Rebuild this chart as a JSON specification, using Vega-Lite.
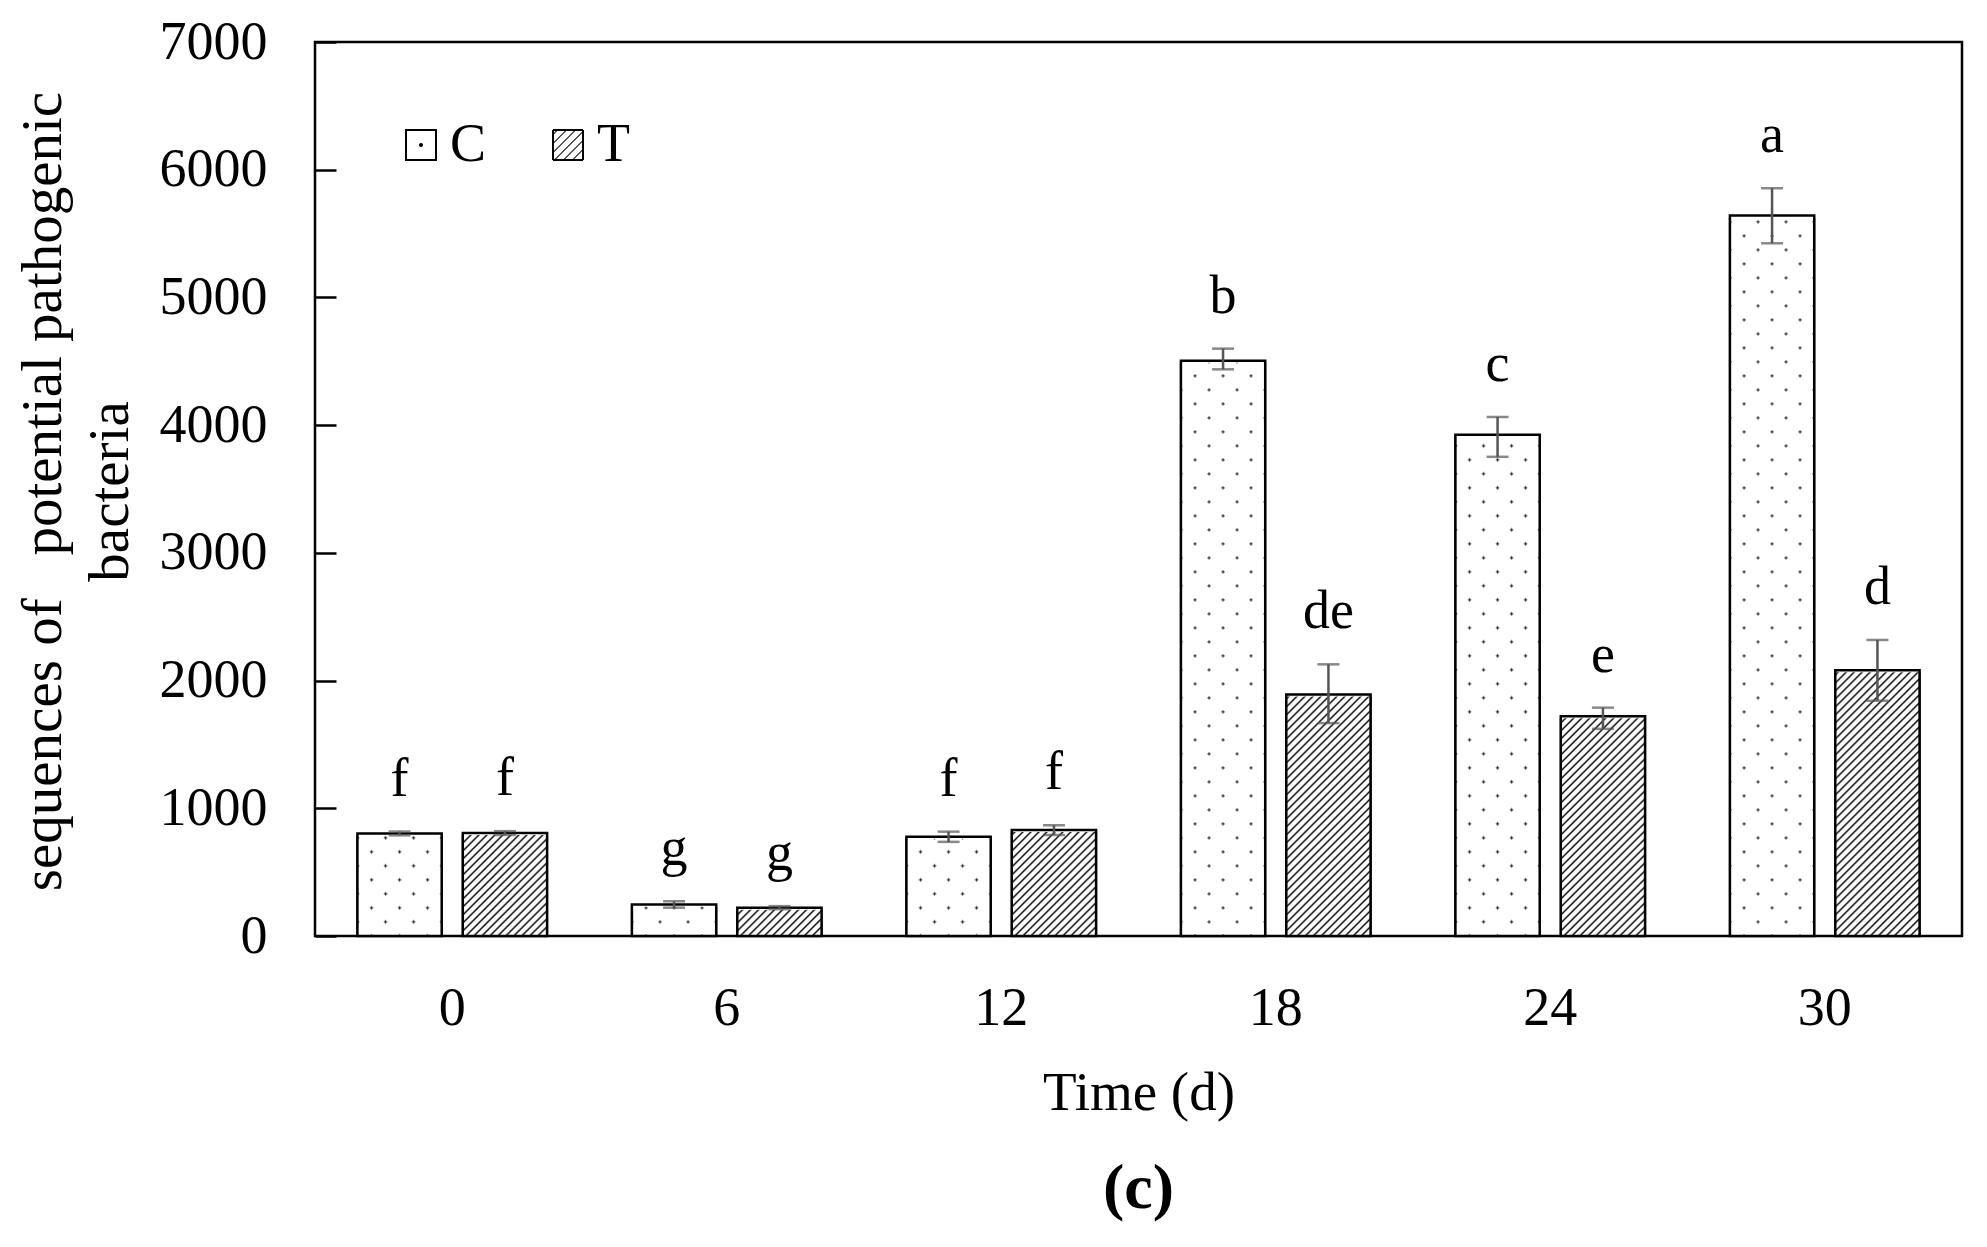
{
  "$schema": "https://vega.github.io/schema/vega-lite/v6.json",
  "width": 1647,
  "height": 894,
  "autosize": {"type": "none"},
  "padding": {"left": 315, "top": 42, "right": 25, "bottom": 311},
  "background": "#ffffff",
  "config": {
    "font": "Liberation Serif",
    "view": {"stroke": "#000000", "strokeWidth": 2.5},
    "axis": {
      "grid": false,
      "domain": false,
      "labelColor": "#000000",
      "titleColor": "#000000",
      "labelFont": "Liberation Serif",
      "titleFont": "Liberation Serif",
      "labelFontSize": 54,
      "titleFontWeight": "normal"
    },
    "axisY": {"grid": true, "gridColor": "#000000", "gridWidth": 2.5, "gridOpacity": 1, "gridDash": [21, 5000], "ticks": false},
    "legend": {
      "title": null,
      "orient": "none",
      "direction": "horizontal",
      "padding": 0,
      "symbolType": "square",
      "symbolSize": 900,
      "symbolStrokeWidth": 2,
      "labelFont": "Liberation Serif",
      "labelFontSize": 54,
      "labelColor": "#000000",
      "labelOffset": 2
    }
  },
  "title": {
    "text": "(c)",
    "orient": "bottom",
    "frame": "group",
    "anchor": "middle",
    "offset": 88,
    "baseline": "alphabetic",
    "font": "Liberation Serif",
    "fontSize": 64,
    "fontWeight": "bold",
    "color": "#000000"
  },
  "data": {
    "values": [
      {"time": 0, "group": "C", "mean": 803, "lo": 788, "hi": 818, "sig": "f"},
      {"time": 0, "group": "T", "mean": 806, "lo": 791, "hi": 821, "sig": "f"},
      {"time": 6, "group": "C", "mean": 247, "lo": 222, "hi": 272, "sig": "g"},
      {"time": 6, "group": "T", "mean": 222, "lo": 210, "hi": 234, "sig": "g"},
      {"time": 12, "group": "C", "mean": 777, "lo": 737, "hi": 817, "sig": "f"},
      {"time": 12, "group": "T", "mean": 829, "lo": 791, "hi": 867, "sig": "f"},
      {"time": 18, "group": "C", "mean": 4505, "lo": 4437, "hi": 4599, "sig": "b"},
      {"time": 18, "group": "T", "mean": 1890, "lo": 1667, "hi": 2127, "sig": "de"},
      {"time": 24, "group": "C", "mean": 3925, "lo": 3752, "hi": 4064, "sig": "c"},
      {"time": 24, "group": "T", "mean": 1720, "lo": 1622, "hi": 1788, "sig": "e"},
      {"time": 30, "group": "C", "mean": 5641, "lo": 5424, "hi": 5855, "sig": "a"},
      {"time": 30, "group": "T", "mean": 2080, "lo": 1842, "hi": 2318, "sig": "d"}
    ]
  },
  "encoding": {
    "x": {
      "field": "time",
      "type": "ordinal",
      "scale": {"paddingInner": 0.309, "paddingOuter": 0.1545},
      "axis": {
        "title": "Time (d)",
        "labelAngle": 0,
        "ticks": false,
        "tickSize": 0,
        "labelPadding": 88,
        "labelBaseline": "alphabetic",
        "titleFontSize": 55,
        "titleY": 173,
        "titleBaseline": "alphabetic"
      }
    },
    "xOffset": {"field": "group", "scale": {"domain": ["C", "T"], "paddingInner": 0.2, "paddingOuter": 0}}
  },
  "layer": [
    {
      "transform": [{"filter": "datum.group === 'C'"}],
      "mark": {
        "type": "bar",
        "stroke": "#000000",
        "strokeWidth": 2,
        "fill": {
          "gradient": "radial", "x1": 0.5, "y1": 0.5, "r1": 0, "x2": 0.5, "y2": 0.5, "r2": 0.5,
          "stops": [
            {"offset": 0, "color": "#000"}, {"offset": 0.1, "color": "#000"},
            {"offset": 0.16, "color": "#fff"}, {"offset": 1, "color": "#fff"}
          ]
        }
      },
      "encoding": {
        "y": {"field": "mean", "type": "quantitative"},
        "stroke": {
          "field": "group",
          "type": "nominal",
          "scale": {"domain": ["C"], "range": ["#000000"]},
          "legend": {"legendX": 79, "legendY": 76}
        }
      }
    },
    {
      "transform": [{"filter": "datum.group === 'T'"}],
      "mark": {
        "type": "bar",
        "stroke": "#000000",
        "strokeWidth": 2,
        "fill": {
          "gradient": "linear", "x1": 0, "y1": 0, "x2": 1, "y2": 1,
          "stops": [
            {"offset": 0.05, "color": "#fff"}, {"offset": 0.075, "color": "#000"}, {"offset": 0.1, "color": "#fff"},
            {"offset": 0.2, "color": "#fff"}, {"offset": 0.225, "color": "#000"}, {"offset": 0.25, "color": "#fff"},
            {"offset": 0.35, "color": "#fff"}, {"offset": 0.375, "color": "#000"}, {"offset": 0.4, "color": "#fff"},
            {"offset": 0.5, "color": "#fff"}, {"offset": 0.525, "color": "#000"}, {"offset": 0.55, "color": "#fff"},
            {"offset": 0.65, "color": "#fff"}, {"offset": 0.675, "color": "#000"}, {"offset": 0.7, "color": "#fff"},
            {"offset": 0.8, "color": "#fff"}, {"offset": 0.825, "color": "#000"}, {"offset": 0.85, "color": "#fff"},
            {"offset": 0.95, "color": "#fff"}, {"offset": 0.975, "color": "#000"}, {"offset": 1, "color": "#fff"}
          ]
        }
      },
      "encoding": {
        "y": {"field": "mean", "type": "quantitative"},
        "strokeDash": {
          "field": "group",
          "type": "nominal",
          "scale": {"domain": ["T"], "range": [[1, 0]]},
          "legend": {"legendX": 226, "legendY": 76}
        }
      }
    },
    {
      "transform": [{"filter": "datum.group === 'T'"}],
      "mark": {
        "type": "bar",
        "strokeWidth": 0,
        "fill": {
          "gradient": "linear", "x1": 0, "y1": 0, "x2": 0.3922, "y2": 1.3057,
          "stops": [
            {"offset": 0.005, "color": "#fff"}, {"offset": 0.01, "color": "#000"}, {"offset": 0.015, "color": "#fff"},
            {"offset": 0.025, "color": "#fff"}, {"offset": 0.03, "color": "#000"}, {"offset": 0.035, "color": "#fff"},
            {"offset": 0.045, "color": "#fff"}, {"offset": 0.05, "color": "#000"}, {"offset": 0.055, "color": "#fff"},
            {"offset": 0.065, "color": "#fff"}, {"offset": 0.07, "color": "#000"}, {"offset": 0.075, "color": "#fff"},
            {"offset": 0.085, "color": "#fff"}, {"offset": 0.09, "color": "#000"}, {"offset": 0.095, "color": "#fff"},
            {"offset": 0.105, "color": "#fff"}, {"offset": 0.11, "color": "#000"}, {"offset": 0.115, "color": "#fff"},
            {"offset": 0.125, "color": "#fff"}, {"offset": 0.13, "color": "#000"}, {"offset": 0.135, "color": "#fff"},
            {"offset": 0.145, "color": "#fff"}, {"offset": 0.15, "color": "#000"}, {"offset": 0.155, "color": "#fff"},
            {"offset": 0.165, "color": "#fff"}, {"offset": 0.17, "color": "#000"}, {"offset": 0.175, "color": "#fff"},
            {"offset": 0.185, "color": "#fff"}, {"offset": 0.19, "color": "#000"}, {"offset": 0.195, "color": "#fff"},
            {"offset": 0.205, "color": "#fff"}, {"offset": 0.21, "color": "#000"}, {"offset": 0.215, "color": "#fff"},
            {"offset": 0.225, "color": "#fff"}, {"offset": 0.23, "color": "#000"}, {"offset": 0.235, "color": "#fff"},
            {"offset": 0.245, "color": "#fff"}, {"offset": 0.25, "color": "#000"}, {"offset": 0.255, "color": "#fff"},
            {"offset": 0.265, "color": "#fff"}, {"offset": 0.27, "color": "#000"}, {"offset": 0.275, "color": "#fff"},
            {"offset": 0.285, "color": "#fff"}, {"offset": 0.29, "color": "#000"}, {"offset": 0.295, "color": "#fff"},
            {"offset": 0.305, "color": "#fff"}, {"offset": 0.31, "color": "#000"}, {"offset": 0.315, "color": "#fff"},
            {"offset": 0.325, "color": "#fff"}, {"offset": 0.33, "color": "#000"}, {"offset": 0.335, "color": "#fff"},
            {"offset": 0.345, "color": "#fff"}, {"offset": 0.35, "color": "#000"}, {"offset": 0.355, "color": "#fff"},
            {"offset": 0.365, "color": "#fff"}, {"offset": 0.37, "color": "#000"}, {"offset": 0.375, "color": "#fff"},
            {"offset": 0.385, "color": "#fff"}, {"offset": 0.39, "color": "#000"}, {"offset": 0.395, "color": "#fff"},
            {"offset": 0.405, "color": "#fff"}, {"offset": 0.41, "color": "#000"}, {"offset": 0.415, "color": "#fff"},
            {"offset": 0.425, "color": "#fff"}, {"offset": 0.43, "color": "#000"}, {"offset": 0.435, "color": "#fff"},
            {"offset": 0.445, "color": "#fff"}, {"offset": 0.45, "color": "#000"}, {"offset": 0.455, "color": "#fff"},
            {"offset": 0.465, "color": "#fff"}, {"offset": 0.47, "color": "#000"}, {"offset": 0.475, "color": "#fff"},
            {"offset": 0.485, "color": "#fff"}, {"offset": 0.49, "color": "#000"}, {"offset": 0.495, "color": "#fff"},
            {"offset": 0.505, "color": "#fff"}, {"offset": 0.51, "color": "#000"}, {"offset": 0.515, "color": "#fff"},
            {"offset": 0.525, "color": "#fff"}, {"offset": 0.53, "color": "#000"}, {"offset": 0.535, "color": "#fff"},
            {"offset": 0.545, "color": "#fff"}, {"offset": 0.55, "color": "#000"}, {"offset": 0.555, "color": "#fff"},
            {"offset": 0.565, "color": "#fff"}, {"offset": 0.57, "color": "#000"}, {"offset": 0.575, "color": "#fff"},
            {"offset": 0.585, "color": "#fff"}, {"offset": 0.59, "color": "#000"}, {"offset": 0.595, "color": "#fff"},
            {"offset": 0.605, "color": "#fff"}, {"offset": 0.61, "color": "#000"}, {"offset": 0.615, "color": "#fff"},
            {"offset": 0.625, "color": "#fff"}, {"offset": 0.63, "color": "#000"}, {"offset": 0.635, "color": "#fff"},
            {"offset": 0.645, "color": "#fff"}, {"offset": 0.65, "color": "#000"}, {"offset": 0.655, "color": "#fff"},
            {"offset": 0.665, "color": "#fff"}, {"offset": 0.67, "color": "#000"}, {"offset": 0.675, "color": "#fff"},
            {"offset": 0.685, "color": "#fff"}, {"offset": 0.69, "color": "#000"}, {"offset": 0.695, "color": "#fff"},
            {"offset": 0.705, "color": "#fff"}, {"offset": 0.71, "color": "#000"}, {"offset": 0.715, "color": "#fff"},
            {"offset": 0.725, "color": "#fff"}, {"offset": 0.73, "color": "#000"}, {"offset": 0.735, "color": "#fff"},
            {"offset": 0.745, "color": "#fff"}, {"offset": 0.75, "color": "#000"}, {"offset": 0.755, "color": "#fff"},
            {"offset": 0.765, "color": "#fff"}, {"offset": 0.77, "color": "#000"}, {"offset": 0.775, "color": "#fff"},
            {"offset": 0.785, "color": "#fff"}, {"offset": 0.79, "color": "#000"}, {"offset": 0.795, "color": "#fff"},
            {"offset": 0.805, "color": "#fff"}, {"offset": 0.81, "color": "#000"}, {"offset": 0.815, "color": "#fff"},
            {"offset": 0.825, "color": "#fff"}, {"offset": 0.83, "color": "#000"}, {"offset": 0.835, "color": "#fff"},
            {"offset": 0.845, "color": "#fff"}, {"offset": 0.85, "color": "#000"}, {"offset": 0.855, "color": "#fff"},
            {"offset": 0.865, "color": "#fff"}, {"offset": 0.87, "color": "#000"}, {"offset": 0.875, "color": "#fff"},
            {"offset": 0.885, "color": "#fff"}, {"offset": 0.89, "color": "#000"}, {"offset": 0.895, "color": "#fff"},
            {"offset": 0.905, "color": "#fff"}, {"offset": 0.91, "color": "#000"}, {"offset": 0.915, "color": "#fff"}
          ]
        }
      },
      "encoding": {
        "y": {"datum": 2200, "type": "quantitative"},
        "y2": {"datum": 0}
      }
    },
    {
      "transform": [{"filter": "datum.group === 'C'"}],
      "mark": {
        "type": "bar",
        "strokeWidth": 0,
        "fill": {
          "gradient": "linear", "x1": 0, "y1": 0, "x2": 0.2198, "y2": 1.8977,
          "stops": [
            {"offset": 0.008, "color": "#fff"}, {"offset": 0.01, "color": "#000"}, {"offset": 0.012, "color": "#fff"},
            {"offset": 0.028, "color": "#fff"}, {"offset": 0.03, "color": "#000"}, {"offset": 0.032, "color": "#fff"},
            {"offset": 0.048, "color": "#fff"}, {"offset": 0.05, "color": "#000"}, {"offset": 0.052, "color": "#fff"},
            {"offset": 0.068, "color": "#fff"}, {"offset": 0.07, "color": "#000"}, {"offset": 0.072, "color": "#fff"},
            {"offset": 0.088, "color": "#fff"}, {"offset": 0.09, "color": "#000"}, {"offset": 0.092, "color": "#fff"},
            {"offset": 0.108, "color": "#fff"}, {"offset": 0.11, "color": "#000"}, {"offset": 0.112, "color": "#fff"},
            {"offset": 0.128, "color": "#fff"}, {"offset": 0.13, "color": "#000"}, {"offset": 0.132, "color": "#fff"},
            {"offset": 0.148, "color": "#fff"}, {"offset": 0.15, "color": "#000"}, {"offset": 0.152, "color": "#fff"},
            {"offset": 0.168, "color": "#fff"}, {"offset": 0.17, "color": "#000"}, {"offset": 0.172, "color": "#fff"},
            {"offset": 0.188, "color": "#fff"}, {"offset": 0.19, "color": "#000"}, {"offset": 0.192, "color": "#fff"},
            {"offset": 0.208, "color": "#fff"}, {"offset": 0.21, "color": "#000"}, {"offset": 0.212, "color": "#fff"},
            {"offset": 0.228, "color": "#fff"}, {"offset": 0.23, "color": "#000"}, {"offset": 0.232, "color": "#fff"},
            {"offset": 0.248, "color": "#fff"}, {"offset": 0.25, "color": "#000"}, {"offset": 0.252, "color": "#fff"},
            {"offset": 0.268, "color": "#fff"}, {"offset": 0.27, "color": "#000"}, {"offset": 0.272, "color": "#fff"},
            {"offset": 0.288, "color": "#fff"}, {"offset": 0.29, "color": "#000"}, {"offset": 0.292, "color": "#fff"},
            {"offset": 0.308, "color": "#fff"}, {"offset": 0.31, "color": "#000"}, {"offset": 0.312, "color": "#fff"},
            {"offset": 0.328, "color": "#fff"}, {"offset": 0.33, "color": "#000"}, {"offset": 0.332, "color": "#fff"},
            {"offset": 0.348, "color": "#fff"}, {"offset": 0.35, "color": "#000"}, {"offset": 0.352, "color": "#fff"},
            {"offset": 0.368, "color": "#fff"}, {"offset": 0.37, "color": "#000"}, {"offset": 0.372, "color": "#fff"},
            {"offset": 0.388, "color": "#fff"}, {"offset": 0.39, "color": "#000"}, {"offset": 0.392, "color": "#fff"},
            {"offset": 0.408, "color": "#fff"}, {"offset": 0.41, "color": "#000"}, {"offset": 0.412, "color": "#fff"},
            {"offset": 0.428, "color": "#fff"}, {"offset": 0.43, "color": "#000"}, {"offset": 0.432, "color": "#fff"},
            {"offset": 0.448, "color": "#fff"}, {"offset": 0.45, "color": "#000"}, {"offset": 0.452, "color": "#fff"},
            {"offset": 0.468, "color": "#fff"}, {"offset": 0.47, "color": "#000"}, {"offset": 0.472, "color": "#fff"},
            {"offset": 0.488, "color": "#fff"}, {"offset": 0.49, "color": "#000"}, {"offset": 0.492, "color": "#fff"},
            {"offset": 0.508, "color": "#fff"}, {"offset": 0.51, "color": "#000"}, {"offset": 0.512, "color": "#fff"},
            {"offset": 0.528, "color": "#fff"}, {"offset": 0.53, "color": "#000"}, {"offset": 0.532, "color": "#fff"},
            {"offset": 0.548, "color": "#fff"}, {"offset": 0.55, "color": "#000"}, {"offset": 0.552, "color": "#fff"},
            {"offset": 0.568, "color": "#fff"}, {"offset": 0.57, "color": "#000"}, {"offset": 0.572, "color": "#fff"},
            {"offset": 0.588, "color": "#fff"}, {"offset": 0.59, "color": "#000"}, {"offset": 0.592, "color": "#fff"}
          ]
        }
      },
      "encoding": {
        "y": {"datum": 5700, "type": "quantitative"},
        "y2": {"datum": 0}
      }
    },
    {
      "transform": [{"filter": "datum.group === 'C'"}],
      "mark": {
        "type": "bar",
        "strokeWidth": 0,
        "blend": "lighten",
        "fill": {
          "gradient": "linear", "x1": 1, "y1": 0, "x2": 0.7802, "y2": 1.8977,
          "stops": [
            {"offset": 0.008, "color": "#fff"}, {"offset": 0.01, "color": "#000"}, {"offset": 0.012, "color": "#fff"},
            {"offset": 0.028, "color": "#fff"}, {"offset": 0.03, "color": "#000"}, {"offset": 0.032, "color": "#fff"},
            {"offset": 0.048, "color": "#fff"}, {"offset": 0.05, "color": "#000"}, {"offset": 0.052, "color": "#fff"},
            {"offset": 0.068, "color": "#fff"}, {"offset": 0.07, "color": "#000"}, {"offset": 0.072, "color": "#fff"},
            {"offset": 0.088, "color": "#fff"}, {"offset": 0.09, "color": "#000"}, {"offset": 0.092, "color": "#fff"},
            {"offset": 0.108, "color": "#fff"}, {"offset": 0.11, "color": "#000"}, {"offset": 0.112, "color": "#fff"},
            {"offset": 0.128, "color": "#fff"}, {"offset": 0.13, "color": "#000"}, {"offset": 0.132, "color": "#fff"},
            {"offset": 0.148, "color": "#fff"}, {"offset": 0.15, "color": "#000"}, {"offset": 0.152, "color": "#fff"},
            {"offset": 0.168, "color": "#fff"}, {"offset": 0.17, "color": "#000"}, {"offset": 0.172, "color": "#fff"},
            {"offset": 0.188, "color": "#fff"}, {"offset": 0.19, "color": "#000"}, {"offset": 0.192, "color": "#fff"},
            {"offset": 0.208, "color": "#fff"}, {"offset": 0.21, "color": "#000"}, {"offset": 0.212, "color": "#fff"},
            {"offset": 0.228, "color": "#fff"}, {"offset": 0.23, "color": "#000"}, {"offset": 0.232, "color": "#fff"},
            {"offset": 0.248, "color": "#fff"}, {"offset": 0.25, "color": "#000"}, {"offset": 0.252, "color": "#fff"},
            {"offset": 0.268, "color": "#fff"}, {"offset": 0.27, "color": "#000"}, {"offset": 0.272, "color": "#fff"},
            {"offset": 0.288, "color": "#fff"}, {"offset": 0.29, "color": "#000"}, {"offset": 0.292, "color": "#fff"},
            {"offset": 0.308, "color": "#fff"}, {"offset": 0.31, "color": "#000"}, {"offset": 0.312, "color": "#fff"},
            {"offset": 0.328, "color": "#fff"}, {"offset": 0.33, "color": "#000"}, {"offset": 0.332, "color": "#fff"},
            {"offset": 0.348, "color": "#fff"}, {"offset": 0.35, "color": "#000"}, {"offset": 0.352, "color": "#fff"},
            {"offset": 0.368, "color": "#fff"}, {"offset": 0.37, "color": "#000"}, {"offset": 0.372, "color": "#fff"},
            {"offset": 0.388, "color": "#fff"}, {"offset": 0.39, "color": "#000"}, {"offset": 0.392, "color": "#fff"},
            {"offset": 0.408, "color": "#fff"}, {"offset": 0.41, "color": "#000"}, {"offset": 0.412, "color": "#fff"},
            {"offset": 0.428, "color": "#fff"}, {"offset": 0.43, "color": "#000"}, {"offset": 0.432, "color": "#fff"},
            {"offset": 0.448, "color": "#fff"}, {"offset": 0.45, "color": "#000"}, {"offset": 0.452, "color": "#fff"},
            {"offset": 0.468, "color": "#fff"}, {"offset": 0.47, "color": "#000"}, {"offset": 0.472, "color": "#fff"},
            {"offset": 0.488, "color": "#fff"}, {"offset": 0.49, "color": "#000"}, {"offset": 0.492, "color": "#fff"},
            {"offset": 0.508, "color": "#fff"}, {"offset": 0.51, "color": "#000"}, {"offset": 0.512, "color": "#fff"},
            {"offset": 0.528, "color": "#fff"}, {"offset": 0.53, "color": "#000"}, {"offset": 0.532, "color": "#fff"},
            {"offset": 0.548, "color": "#fff"}, {"offset": 0.55, "color": "#000"}, {"offset": 0.552, "color": "#fff"},
            {"offset": 0.568, "color": "#fff"}, {"offset": 0.57, "color": "#000"}, {"offset": 0.572, "color": "#fff"},
            {"offset": 0.588, "color": "#fff"}, {"offset": 0.59, "color": "#000"}, {"offset": 0.592, "color": "#fff"}
          ]
        }
      },
      "encoding": {
        "y": {"datum": 5700, "type": "quantitative"},
        "y2": {"datum": 0}
      }
    },
    {
      "transform": [{"filter": "datum.group === 'T'"}],
      "mark": {"type": "bar", "fill": "#ffffff", "stroke": "#ffffff", "strokeWidth": 4},
      "encoding": {
        "y": {"field": "mean", "type": "quantitative"},
        "y2": {"datum": 2200}
      }
    },
    {
      "transform": [{"filter": "datum.group === 'C'"}],
      "mark": {"type": "bar", "fill": "#ffffff", "stroke": "#ffffff", "strokeWidth": 4},
      "encoding": {
        "y": {"field": "mean", "type": "quantitative"},
        "y2": {"datum": 5700}
      }
    },
    {
      "mark": {"type": "bar", "fill": "transparent", "stroke": "#000000", "strokeWidth": 2.5},
      "encoding": {
        "y": {
          "field": "mean",
          "type": "quantitative",
          "scale": {"domain": [0, 7000], "nice": false},
          "axis": {
            "title": ["sequences of\u00a0\u00a0\u00a0potential pathogenic", "bacteria"],
            "values": [0, 1000, 2000, 3000, 4000, 5000, 6000, 7000],
            "format": "d",
            "ticks": false,
            "grid": true,
            "gridColor": "#000000",
            "gridWidth": 2.5,
            "gridOpacity": 1,
            "gridDash": [21, 5000],
            "labelPadding": 48,
            "labelOverlap": false,
            "titleFontSize": 57,
            "titleAngle": -90,
            "titleAlign": "center",
            "titleBaseline": "alphabetic",
            "titleLineHeight": 67,
            "titleX": -255,
            "titleY": 449
          }
        }
      }
    },
    {
      "mark": {"type": "rule", "color": "#555555", "strokeWidth": 2.5},
      "encoding": {
        "y": {"field": "lo", "type": "quantitative"},
        "y2": {"field": "hi"}
      }
    },
    {
      "mark": {"type": "tick", "color": "#555555", "size": 22, "thickness": 2.5},
      "encoding": {
        "y": {"field": "hi", "type": "quantitative"}
      }
    },
    {
      "mark": {"type": "tick", "color": "#555555", "size": 22, "thickness": 2.5},
      "encoding": {
        "y": {"field": "lo", "type": "quantitative"}
      }
    },
    {
      "mark": {
        "type": "text",
        "font": "Liberation Serif",
        "fontSize": 54,
        "color": "#000000",
        "baseline": "alphabetic",
        "align": "center",
        "dy": -36
      },
      "encoding": {
        "y": {"field": "hi", "type": "quantitative"},
        "text": {"field": "sig"}
      }
    }
  ]
}
